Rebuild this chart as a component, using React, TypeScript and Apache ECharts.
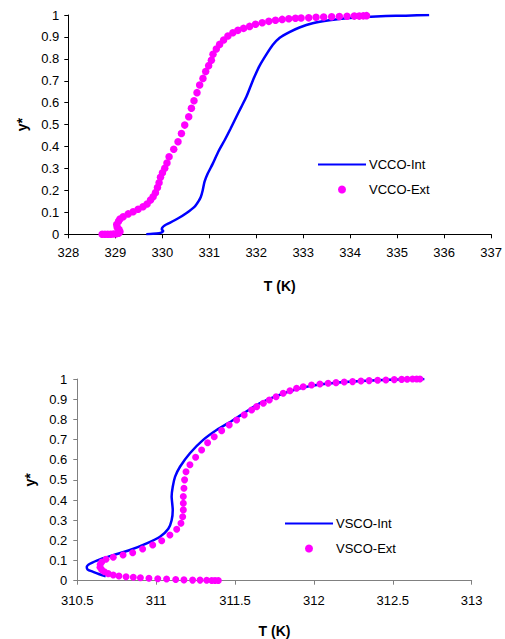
import React, { useEffect, useRef } from "react";
import * as echarts from "echarts";

// ---- Data (T in K, y*) ----
const vccoInt: number[][] = [
  [329.66, 0], [329.8, 0.002], [329.93, 0.005], [329.99, 0.009], [330.02, 0.015], [329.99, 0.022],
  [330.0, 0.03], [330.05, 0.04], [330.16, 0.052], [330.34, 0.073], [330.51, 0.096], [330.69, 0.126],
  [330.77, 0.15], [330.82, 0.17], [330.86, 0.2], [330.9, 0.24], [330.97, 0.278], [331.07, 0.32],
  [331.2, 0.38], [331.33, 0.43], [331.45, 0.48], [331.575, 0.535], [331.68, 0.58], [331.79, 0.627],
  [331.88, 0.675], [331.964, 0.719], [332.07, 0.768], [332.21, 0.818], [332.35, 0.863], [332.5, 0.896],
  [332.707, 0.922], [332.92, 0.943], [333.2, 0.962], [333.556, 0.976], [333.91, 0.985], [334.335, 0.991],
  [334.76, 0.995], [335.185, 0.997], [335.68, 1.0],
];

const vccoExt: number[][] = [
  [328.72, 0], [328.78, 0], [328.84, 0], [328.9, 0], [328.96, 0.001], [329.02, 0.002], [329.07, 0.005],
  [329.1, 0.012], [329.08, 0.022], [329.04, 0.032], [329.03, 0.045], [329.07, 0.06], [329.1, 0.07],
  [329.168, 0.08], [329.274, 0.093], [329.38, 0.103], [329.486, 0.114], [329.59, 0.126], [329.677, 0.138],
  [329.75, 0.156], [329.805, 0.171], [329.855, 0.19], [329.898, 0.213], [329.932, 0.235], [329.962, 0.26],
  [330.004, 0.281], [330.053, 0.301], [330.1, 0.325], [330.145, 0.354], [330.244, 0.388], [330.335, 0.422],
  [330.408, 0.46], [330.478, 0.498], [330.563, 0.536], [330.62, 0.575], [330.675, 0.609], [330.739, 0.646],
  [330.796, 0.681], [330.866, 0.711], [330.924, 0.742], [330.987, 0.769], [331.045, 0.794], [331.08, 0.821],
  [331.15, 0.845], [331.22, 0.866], [331.306, 0.886], [331.397, 0.904], [331.503, 0.919], [331.61, 0.93],
  [331.73, 0.939], [331.858, 0.948], [331.985, 0.958], [332.127, 0.965], [332.268, 0.971], [332.41, 0.976],
  [332.552, 0.98], [332.693, 0.983], [332.835, 0.985], [332.955, 0.986], [333.117, 0.987], [333.273, 0.99],
  [333.435, 0.991], [333.605, 0.992], [333.769, 0.993], [333.932, 0.994], [334.087, 0.995], [334.193, 0.995],
  [334.278, 0.996], [334.348, 0.997],
];

const vscoInt: number[][] = [
  [310.68, 0.022], [310.64, 0.032], [310.6, 0.044], [310.565, 0.056], [310.56, 0.068], [310.58, 0.084],
  [310.644, 0.106], [310.728, 0.127], [310.834, 0.152], [310.94, 0.185], [311.024, 0.218], [311.077, 0.258],
  [311.098, 0.3], [311.105, 0.351], [311.098, 0.417], [311.105, 0.466], [311.12, 0.516], [311.151, 0.565],
  [311.214, 0.632], [311.298, 0.698], [311.383, 0.747], [311.489, 0.797], [311.594, 0.85], [311.658, 0.88],
  [311.76, 0.915], [311.9, 0.952], [312.05, 0.974], [312.2, 0.985], [312.4, 0.994], [312.55, 0.998],
  [312.7, 1.0],
];

const vscoExt: number[][] = [
  [311.394, 0.001], [311.373, 0.001], [311.352, 0.001], [311.32, 0.002], [311.278, 0.003], [311.231, 0.003],
  [311.176, 0.004], [311.124, 0.006], [311.066, 0.008], [311.01, 0.01], [310.954, 0.012], [310.9, 0.015],
  [310.855, 0.017], [310.809, 0.02], [310.764, 0.023], [310.728, 0.028], [310.696, 0.035], [310.672, 0.044],
  [310.654, 0.055], [310.644, 0.067], [310.645, 0.08], [310.655, 0.093], [310.682, 0.106], [310.728, 0.116],
  [310.79, 0.127], [310.851, 0.139], [310.914, 0.157], [310.978, 0.177], [311.035, 0.198], [311.087, 0.227],
  [311.13, 0.255], [311.157, 0.285], [311.168, 0.317], [311.172, 0.351], [311.172, 0.384], [311.172, 0.417],
  [311.176, 0.458], [311.18, 0.5], [311.189, 0.54], [311.214, 0.575], [311.25, 0.612], [311.288, 0.648],
  [311.326, 0.684], [311.368, 0.714], [311.415, 0.744], [311.463, 0.772], [311.51, 0.797], [311.558, 0.822],
  [311.605, 0.846], [311.637, 0.863], [311.679, 0.88], [311.717, 0.896], [311.76, 0.912], [311.805, 0.929],
  [311.848, 0.942], [311.89, 0.954], [311.932, 0.962], [311.985, 0.97], [312.038, 0.975], [312.09, 0.979],
  [312.14, 0.982], [312.192, 0.985], [312.245, 0.987], [312.298, 0.99], [312.35, 0.992], [312.404, 0.994],
  [312.456, 0.995], [312.509, 0.997], [312.556, 0.998], [312.591, 0.999], [312.625, 1.0], [312.651, 1.0],
  [312.672, 1.0],
];

const seriesNames = ["VCCO-Int", "VCCO-Ext", "VSCO-Int", "VSCO-Ext"];
const xTitle = "T (K)";
const yTitle = "y*";

const FONT = "'Liberation Sans', Arial, sans-serif";
const BLUE = "#0000FF";
const MAGENTA = "#FF00FF";

function axisCommon(color: string, margin: number) {
  return {
    axisLine: { show: true, onZero: false, lineStyle: { color, width: 1 } },
    axisTick: { show: true, inside: false, length: 4, lineStyle: { color, width: 1 } },
    splitLine: { show: false },
    axisLabel: { color: "#000", fontFamily: FONT, fontSize: 13, margin },
    nameTextStyle: { color: "#000", fontFamily: FONT, fontSize: 14, fontWeight: "bold" as const },
  };
}

export default function App() {
  const ref = useRef<HTMLDivElement>(null);
  useEffect(() => {
    if (!ref.current) return;
    const chart = echarts.init(ref.current, undefined, { renderer: "svg" });
    const legendCommon = {
      orient: "vertical" as const,
      itemWidth: 48,
      itemHeight: 8,
      itemGap: 12,
      padding: 0,
      selectedMode: false,
      textStyle: { color: "#000", fontFamily: FONT, fontSize: 13, padding: [0, 0, 0, -2] },
    };
    chart.setOption({
      animation: false,
      backgroundColor: "#fff",
      textStyle: { fontFamily: FONT },
      grid: [
        { left: 68.3, top: 15, width: 424, height: 219.3 },
        { left: 77.3, top: 379, width: 394.4, height: 201.7 },
      ],
      xAxis: [
        {
          type: "value", gridIndex: 0, min: 328, max: 337, interval: 1,
          name: xTitle, nameLocation: "middle", nameGap: 45,
          ...axisCommon("#000", 12),
        },
        {
          type: "value", gridIndex: 1, min: 310.5, max: 313, interval: 0.5,
          name: xTitle, nameLocation: "middle", nameGap: 43,
          ...axisCommon("#808080", 13),
        },
      ],
      yAxis: [
        {
          type: "value", gridIndex: 0, min: 0, max: 1, interval: 0.1,
          name: yTitle, nameLocation: "middle", nameGap: 39,
          ...axisCommon("#000", 9),
        },
        {
          type: "value", gridIndex: 1, min: 0, max: 1, interval: 0.1,
          name: yTitle, nameLocation: "middle", nameGap: 40,
          ...axisCommon("#808080", 10),
        },
      ],
      legend: [
        { ...legendCommon, data: [seriesNames[0], seriesNames[1]], left: 317, top: 158 },
        { ...legendCommon, data: [seriesNames[2], seriesNames[3]], left: 284, top: 517 },
      ],
      series: [
        {
          name: seriesNames[0], type: "line", xAxisIndex: 0, yAxisIndex: 0,
          data: vccoInt, symbol: "none", showSymbol: false, smooth: 0.2,
          lineStyle: { color: BLUE, width: 2.5 }, itemStyle: { color: "rgba(0,0,0,0)" },
          z: 2,
        },
        {
          name: seriesNames[1], type: "scatter", xAxisIndex: 0, yAxisIndex: 0,
          data: vccoExt, symbol: "circle", symbolSize: 7.5,
          itemStyle: { color: MAGENTA, opacity: 1 }, z: 3,
        },
        {
          name: seriesNames[2], type: "line", xAxisIndex: 1, yAxisIndex: 1,
          data: vscoInt, symbol: "none", showSymbol: false, smooth: 0.2,
          lineStyle: { color: BLUE, width: 2.5 }, itemStyle: { color: "rgba(0,0,0,0)" },
          z: 2,
        },
        {
          name: seriesNames[3], type: "scatter", xAxisIndex: 1, yAxisIndex: 1,
          data: vscoExt, symbol: "circle", symbolSize: 7,
          itemStyle: { color: MAGENTA, opacity: 1 }, z: 3,
        },
      ],
    });
    return () => chart.dispose();
  }, []);
  return (
    <div
      ref={ref}
      style={{ position: "fixed", left: 0, top: 0, width: 505, height: 639, background: "#fff" }}
    />
  );
}
